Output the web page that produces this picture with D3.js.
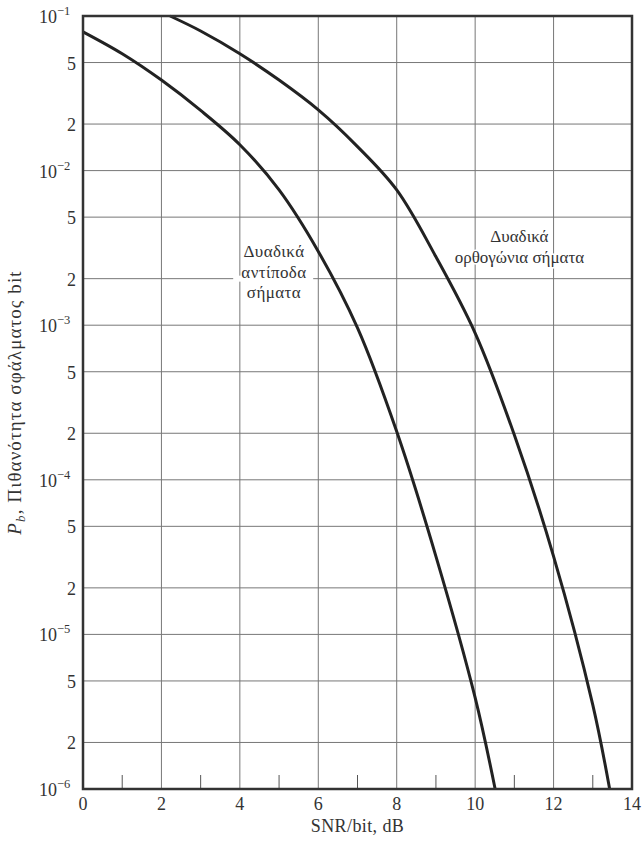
<!DOCTYPE html>
<html>
<head>
<meta charset="utf-8">
<script src="https://cdn.jsdelivr.net/npm/d3@7"></script>
<style>
  body { margin: 0; background: #fff; }
  svg text { font-family: "Liberation Serif", "DejaVu Serif", serif; fill: #333; }
</style>
</head>
<body>
<svg id="chart" width="643" height="843"></svg>
<script>
// values
const snrAntipodal = [0, 1, 2, 3, 4, 5, 6, 7, 8, 9, 10, 10.51];
const pbAntipodal = [7.9e-2, 5.7e-2, 3.85e-2, 2.45e-2, 1.47e-2, 7.5e-3, 3.0e-3, 9.6e-4, 2.05e-4, 3.2e-5, 3.9e-6, 1e-6];

const snrOrthogonal = [2.22, 3, 4, 5, 6, 7, 8, 9, 10, 11, 12, 13, 13.43];
const pbOrthogonal = [1e-1, 8.0e-2, 5.7e-2, 3.85e-2, 2.47e-2, 1.43e-2, 7.5e-3, 2.77e-3, 8.9e-4, 1.95e-4, 3.2e-5, 3.5e-6, 1e-6];

const xTicks = [0, 2, 4, 6, 8, 10, 12, 14];
const xMinorTicks = [1, 3, 5, 7, 9, 11, 13];
const yTicks = [1e-1, 5e-2, 2e-2, 1e-2, 5e-3, 2e-3, 1e-3, 5e-4, 2e-4, 1e-4, 5e-5, 2e-5, 1e-5, 5e-6, 2e-6, 1e-6];
const yTickMantissa = ['10', '5', '2', '10', '5', '2', '10', '5', '2', '10', '5', '2', '10', '5', '2', '10'];
const yTickExponent = ['−1', '', '', '−2', '', '', '−3', '', '', '−4', '', '', '−5', '', '', '−6'];

const xTitle = 'SNR/bit, dB';
const yTitle = ', Πιθανότητα σφάλματος bit';
const labelAntipodal = ['Δυαδικά', 'αντίποδα', 'σήματα'];
const labelOrthogonal = ['Δυαδικά', 'ορθογώνια σήματα'];

const svg = d3.select('#chart');
const plotLeft = 83, plotRight = 632, plotTop = 16, plotBottom = 789;

const x = d3.scaleLinear().domain([0, 14]).range([plotLeft, plotRight]);
const y = d3.scaleLog().domain([1e-6, 1e-1]).range([plotBottom, plotTop]);

// grid
const grid = svg.append('g');
grid.selectAll('line.v')
    .data(xTicks.slice(1, -1))
    .join('line')
    .attr('class', 'v')
    .attr('x1', d => x(d)).attr('x2', d => x(d))
    .attr('y1', plotTop).attr('y2', plotBottom)
    .attr('stroke', '#777').attr('stroke-width', 1);
grid.selectAll('line.h')
    .data(yTicks.slice(1, -1))
    .join('line')
    .attr('class', 'h')
    .attr('x1', plotLeft).attr('x2', plotRight)
    .attr('y1', d => y(d)).attr('y2', d => y(d))
    .attr('stroke', '#777').attr('stroke-width', 1);

// short ticks at the odd dB values
svg.append('g').selectAll('line')
    .data(xMinorTicks)
    .join('line')
    .attr('x1', d => x(d)).attr('x2', d => x(d))
    .attr('y1', plotBottom).attr('y2', plotBottom - 14)
    .attr('stroke', '#555').attr('stroke-width', 1);

// labels on the curves; the 2e-3 grid line is broken behind the antipodal one
svg.append('rect')
    .attr('x', x(3.83)).attr('y', y(2e-3) - 3)
    .attr('width', x(5.87) - x(3.83)).attr('height', 6)
    .attr('fill', '#fff');
svg.append('g').selectAll('text')
    .data(labelAntipodal)
    .join('text')
    .attr('x', x(4.87))
    .attr('y', (d, i) => y(2.76e-3) + i * 20.5)
    .attr('text-anchor', 'middle')
    .attr('font-size', 17)
    .attr('letter-spacing', 0.4)
    .text(d => d);

svg.append('g').selectAll('text')
    .data(labelOrthogonal)
    .join('text')
    .attr('x', x(11.13))
    .attr('y', (d, i) => y(3.45e-3) + i * 20.5)
    .attr('text-anchor', 'middle')
    .attr('font-size', 17)
    .attr('stroke', '#fff').attr('stroke-width', 3)
    .attr('paint-order', 'stroke')
    .text(d => d);

// curves
const line = d3.line()
    .x(d => x(d[0]))
    .y(d => y(d[1]))
    .curve(d3.curveCatmullRom.alpha(0.5));

svg.append('path')
    .datum(snrAntipodal.map((s, i) => [s, pbAntipodal[i]]))
    .attr('d', line)
    .attr('fill', 'none').attr('stroke', '#222').attr('stroke-width', 3);

svg.append('path')
    .datum(snrOrthogonal.map((s, i) => [s, pbOrthogonal[i]]))
    .attr('d', line)
    .attr('fill', 'none').attr('stroke', '#222').attr('stroke-width', 3);

// frame
svg.append('rect')
    .attr('x', plotLeft).attr('y', plotTop)
    .attr('width', plotRight - plotLeft).attr('height', plotBottom - plotTop)
    .attr('fill', 'none').attr('stroke', '#333').attr('stroke-width', 2.5);

// x tick labels
svg.append('g').selectAll('text')
    .data(xTicks)
    .join('text')
    .attr('x', d => x(d))
    .attr('y', plotBottom + 21)
    .attr('text-anchor', 'middle')
    .attr('font-size', 18)
    .text(d => d);

// y tick labels: plain mantissa, or "10" with a superscript exponent
svg.append('g').selectAll('text')
    .data(yTicks)
    .join('text')
    .attr('y', d => y(d) + 7)
    .attr('font-size', 18)
    .each(function(d, i) {
        const t = d3.select(this);
        if (yTickExponent[i]) {
            t.attr('x', plotLeft - 44).attr('text-anchor', 'start');
            t.append('tspan').text(yTickMantissa[i]);
            t.append('tspan')
                .attr('dy', -8)
                .attr('font-size', 12.5)
                .text(yTickExponent[i]);
        } else {
            t.attr('x', plotLeft - 7).attr('text-anchor', 'end').text(yTickMantissa[i]);
        }
    });

// axis titles
svg.append('text')
    .attr('x', (plotLeft + plotRight) / 2)
    .attr('y', 832)
    .attr('text-anchor', 'middle')
    .attr('font-size', 18)
    .attr('letter-spacing', 0.4)
    .text(xTitle);

const yt = svg.append('text')
    .attr('transform', `translate(21,${(plotTop + plotBottom) / 2}) rotate(-90)`)
    .attr('text-anchor', 'middle')
    .attr('font-size', 19)
    .attr('letter-spacing', 1.1);
yt.append('tspan').attr('font-style', 'italic').text('P');
yt.append('tspan').attr('font-style', 'italic').attr('font-size', 13).attr('dy', 4).text('b');
yt.append('tspan').attr('dy', -4).text(yTitle);
</script>
</body>
</html>
